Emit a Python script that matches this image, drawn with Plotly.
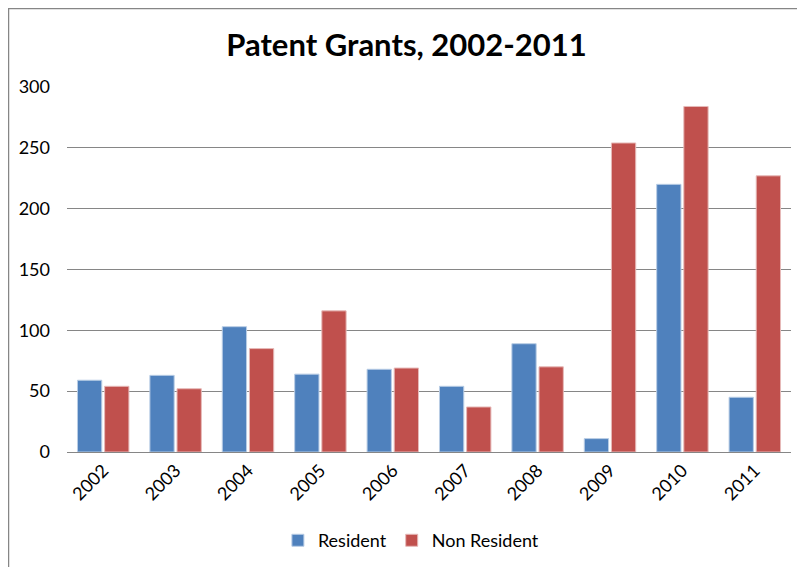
import plotly.graph_objects as go

years = ["2002", "2003", "2004", "2005", "2006", "2007", "2008", "2009", "2010", "2011"]
resident = [59, 63, 103, 64, 68, 54, 89, 11, 220, 45]
non_resident = [54, 52, 85, 116, 69, 37, 70, 254, 284, 227]

FONT = "Lato"

fig = go.Figure()
fig.add_trace(go.Bar(x=years, y=resident, name="Resident",
                     marker=dict(color="#4F81BD", line=dict(color="#B9CDE5", width=1))))
fig.add_trace(go.Bar(x=years, y=non_resident, name="Non Resident",
                     marker=dict(color="#C0504D", line=dict(color="#E6B9B8", width=1))))

# page body has an 8px margin, so the figure is sized a bit smaller
fig.update_layout(
    width=797, height=559,
    paper_bgcolor="white", plot_bgcolor="white",
    font=dict(family=FONT, size=18, color="#000000"),
    title=dict(text="<b>Patent Grants, 2002-2011</b>", x=0.5, xanchor="center",
               y=0.934, yanchor="middle", font=dict(size=31, family=FONT)),
    margin=dict(l=59, r=14, t=79, b=115, autoexpand=False),
    barmode="group", bargap=0.25, bargroupgap=0.105,
    legend=dict(orientation="h", x=0.475, xanchor="center", y=-0.192, yanchor="top",
                font=dict(size=18), itemwidth=30),
    showlegend=True,
)
fig.update_xaxes(tickangle=-45, showgrid=False, showline=True, linecolor="#868686",
                 linewidth=1, ticks="", tickfont=dict(size=18), automargin=False)
fig.update_yaxes(range=[0, 300], dtick=50, showgrid=True, gridcolor="#868686", gridwidth=1,
                 zeroline=False, showline=False, ticks="", tickfont=dict(size=18),
                 ticklabelstandoff=16, automargin=False)

fig.add_shape(type="rect", xref="paper", yref="paper",
              x0=-0.0808, x1=1.0124, y0=-0.33, y1=1.215,
              line=dict(color="#868686", width=1.5), fillcolor="rgba(0,0,0,0)", layer="below")

fig.write_html("out.html")
